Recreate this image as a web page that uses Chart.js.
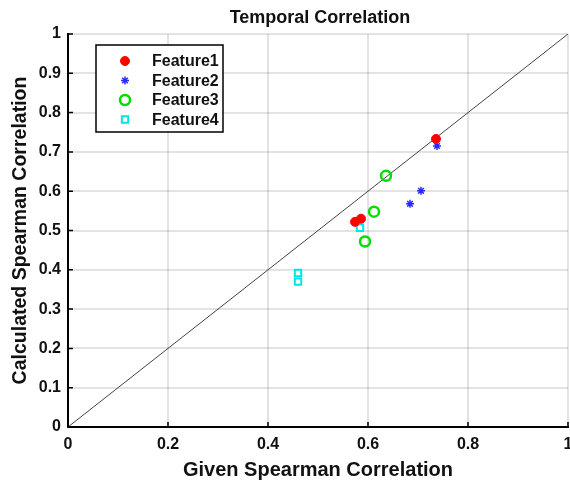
<!DOCTYPE html>
<html>
<head>
<meta charset="utf-8">
<script src="https://cdn.jsdelivr.net/npm/chart.js@4/dist/chart.umd.min.js"></script>
<style>
html,body{margin:0;padding:0;background:#fff;}
#wrap{width:570px;height:483px;}
</style>
</head>
<body>
<div id="wrap"><canvas id="c" width="570" height="483"></canvas></div>
<script>
// values
const chartTitle='Temporal Correlation';
const xTitle='Given Spearman Correlation';
const yTitle='Calculated Spearman Correlation';
const featureNames=['Feature1','Feature2','Feature3','Feature4'];
const f1X=[0.736,0.574,0.586], f1Y=[0.733,0.522,0.530];
const f2X=[0.738,0.706,0.684], f2Y=[0.715,0.601,0.568];
const f3X=[0.636,0.612,0.594], f3Y=[0.639,0.548,0.472];
const f4X=[0.584,0.460,0.460], f4Y=[0.507,0.392,0.370];
const refX=[0,1], refY=[0,1];
const xTicks=[0,0.2,0.4,0.6,0.8,1];
const yTicks=[0,0.1,0.2,0.3,0.4,0.5,0.6,0.7,0.8,0.9,1];

const FONT='"Liberation Sans", Arial, sans-serif';
const toPts=(xs,ys)=>xs.map((x,i)=>({x,y:ys[i]}));

const styles=[
  {pointStyle:'circle',radius:4.5,bg:'#ff0000',border:'#ff0000',bw:1},
  {pointStyle:'star',radius:4,bg:'#0000ff',border:'#2a2aff',bw:1.5},
  {pointStyle:'circle',radius:5,bg:'rgba(0,0,0,0)',border:'#00dd00',bw:2.5},
  {pointStyle:'rect',radius:4.5,bg:'rgba(0,0,0,0)',border:'#00e6e6',bw:2}
];
const series=[[f1X,f1Y],[f2X,f2Y],[f3X,f3Y],[f4X,f4Y]];

const datasets=series.map((s,i)=>({
  label:featureNames[i],
  data:toPts(s[0],s[1]),
  showLine:false,
  pointStyle:styles[i].pointStyle,
  pointRadius:styles[i].radius,
  pointBackgroundColor:styles[i].bg,
  pointBorderColor:styles[i].border,
  pointBorderWidth:styles[i].bw,
  order:1
}));
datasets.push({
  label:'ref',
  data:toPts(refX,refY),
  showLine:true,
  borderColor:'#444',
  borderWidth:1,
  pointRadius:0,
  order:2
});

const fmt=v=>String(Math.round(v*10)/10);

// title, inward tick marks and the legend box
const extras={
  id:'extras',
  afterDraw(chart){
    const ctx=chart.ctx, a=chart.chartArea;
    const xs=chart.scales.x, ys=chart.scales.y;
    ctx.save();
    ctx.fillStyle='#111';
    ctx.font='bold 18px '+FONT;
    ctx.textAlign='center';
    ctx.textBaseline='middle';
    ctx.fillText(chartTitle,320,18);

    ctx.strokeStyle='#000';
    ctx.lineWidth=1.5;
    ctx.beginPath();
    xTicks.forEach(v=>{
      const px=xs.getPixelForValue(v);
      ctx.moveTo(px,a.bottom);ctx.lineTo(px,a.bottom-5);
    });
    yTicks.forEach(v=>{
      const py=ys.getPixelForValue(v);
      ctx.moveTo(a.left,py);ctx.lineTo(a.left+5,py);
    });
    ctx.stroke();

    // legend
    const bx=96,by=45,bw=127,bh=87;
    ctx.fillStyle='#fff';
    ctx.fillRect(bx,by,bw,bh);
    ctx.lineWidth=1.5;
    ctx.strokeStyle='#000';
    ctx.strokeRect(bx,by,bw,bh);
    ctx.font='bold 16px '+FONT;
    ctx.textAlign='left';
    featureNames.forEach((n,i)=>{
      const y=61+i*19.5;
      const st=styles[i];
      ctx.fillStyle=st.bg;
      ctx.strokeStyle=st.border;
      ctx.lineWidth=st.bw;
      Chart.helpers.drawPoint(ctx,{pointStyle:st.pointStyle,radius:st.radius,borderWidth:st.bw,rotation:0},125,y);
      ctx.fillStyle='#111';
      ctx.fillText(n,152,y+1);
    });
    ctx.restore();
  }
};

new Chart(document.getElementById('c'),{
  type:'scatter',
  data:{datasets},
  plugins:[extras],
  options:{
    responsive:false,
    animation:false,
    events:[],
    layout:{autoPadding:false,padding:{top:34,left:0,right:2,bottom:0}},
    plugins:{legend:{display:false},title:{display:false},tooltip:{enabled:false}},
    scales:{
      x:{
        type:'linear',min:0,max:1,
        afterFit(s){s.height=56;s.paddingLeft=0;s.paddingRight=0;},
        afterBuildTicks(s){s.ticks=xTicks.map(v=>({value:v}));},
        grid:{color:'rgba(0,0,0,0.11)',lineWidth:2,drawTicks:false},
        border:{color:'#000',width:2},
        ticks:{padding:8,color:'#111',font:{family:FONT,size:16,weight:'bold'},callback:v=>fmt(v),maxRotation:0},
        title:{display:true,text:xTitle,color:'#111',font:{family:FONT,size:20,weight:'bold'},padding:{top:0,bottom:1}}
      },
      y:{
        type:'linear',min:0,max:1,
        afterFit(s){s.width=68;s.paddingTop=0;s.paddingBottom=0;},
        afterBuildTicks(s){s.ticks=yTicks.map(v=>({value:v}));},
        grid:{color:'rgba(0,0,0,0.11)',lineWidth:2,drawTicks:false},
        border:{color:'#000',width:2},
        ticks:{padding:7,color:'#111',font:{family:FONT,size:16,weight:'bold'},callback:v=>fmt(v)},
        title:{display:true,text:yTitle,color:'#111',font:{family:FONT,size:19.5,weight:'bold'},padding:{top:9,bottom:0}}
      }
    }
  }
});
</script>
</body>
</html>
